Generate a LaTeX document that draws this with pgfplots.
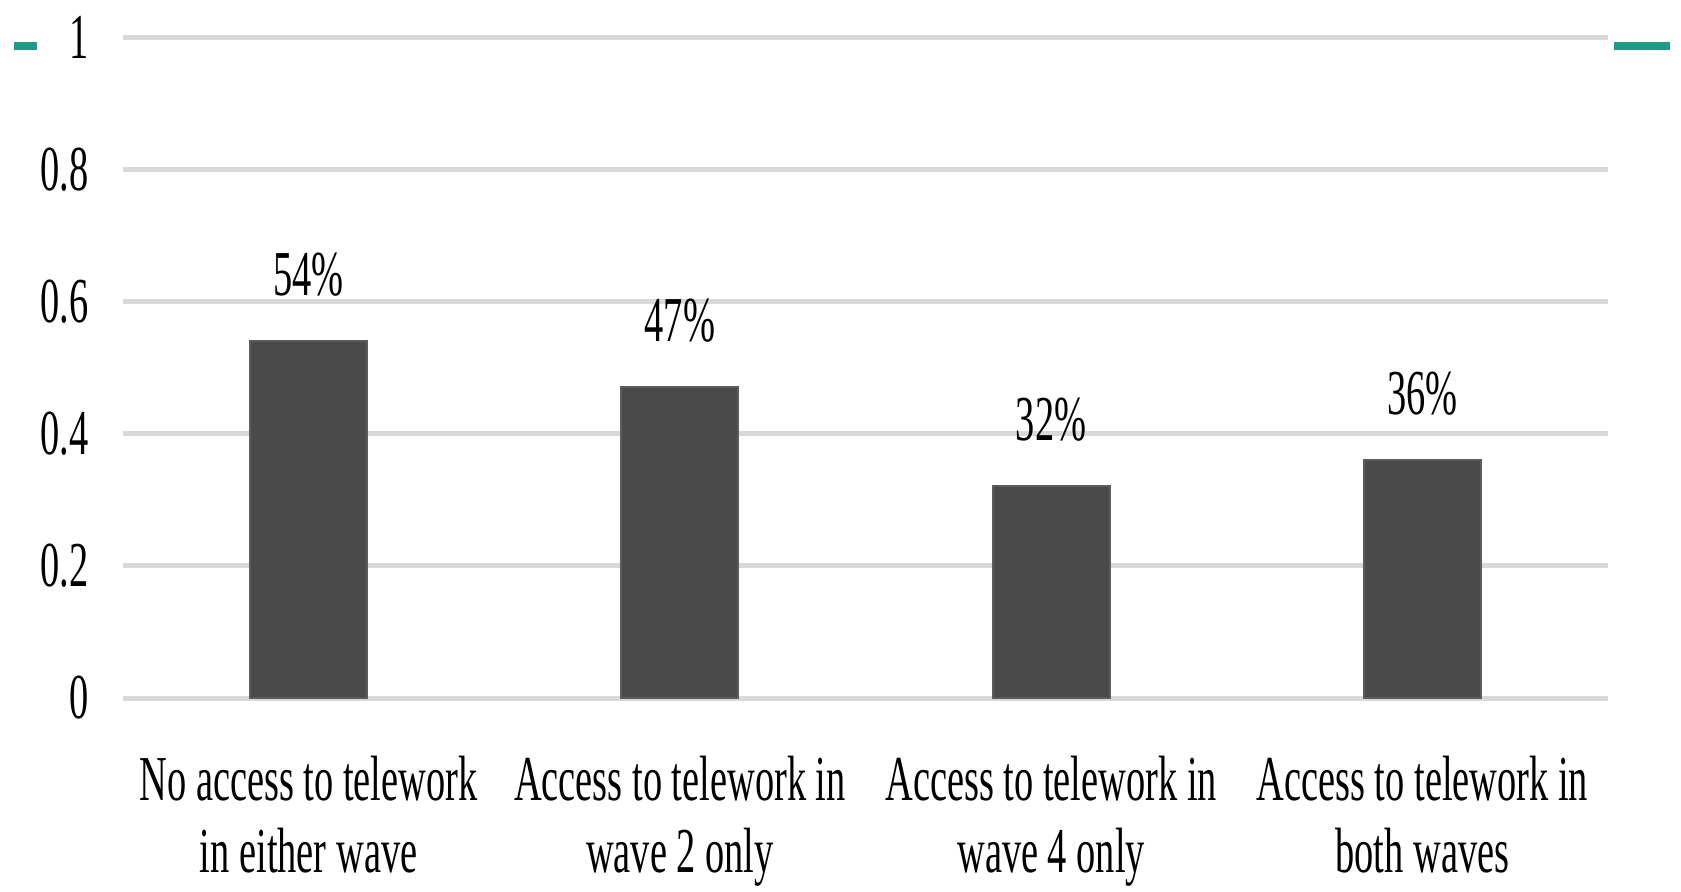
\documentclass[border=0pt]{standalone}
\usepackage{pgfplots}
\pgfplotsset{compat=1.18}
\usepackage{fontspec}
\setmainfont{Liberation Serif}[FakeStretch=0.6]
\definecolor{barfill}{RGB}{74,74,74}
\definecolor{baredge}{RGB}{92,92,92}
\definecolor{gridgray}{RGB}{217,217,217}
\definecolor{tealmark}{RGB}{33,154,135}
\begin{document}
\begin{tikzpicture}
\begin{axis}[
  scale only axis,
  width=742.5pt, height=330.5pt,
  xmin=-0.5, xmax=3.5, ymin=0, ymax=1,
  clip=false,
  ybar, bar width=58.5pt,
  xtick={0,1,2,3},
  xticklabels={{No access to telework\\in either wave},
               {Access to telework in\\wave 2 only},
               {Access to telework in\\wave 4 only},
               {Access to telework in\\both waves}},
  ytick={0,0.2,0.4,0.6,0.8,1},
  axis line style={draw=none},
  major tick length=0pt,
  ymajorgrids,
  grid style={gridgray, line width=2.5pt},
  /pgf/number format/assume math mode=true,
  tick label style={font=\fontsize{32}{36}\selectfont},
  xticklabel style={align=center, inner sep=0pt, yshift=-29pt},
  yticklabel style={inner sep=0pt, xshift=-17pt},
  point meta=explicit symbolic,
  nodes near coords,
  every node near coord/.append style={font=\fontsize{32}{36}\selectfont, inner sep=0pt, yshift=22pt, text=black},
]
\addplot[fill=barfill, draw=baredge, line width=1pt]
  coordinates {(0,0.54) [54\%] (1,0.47) [47\%] (2,0.32) [32\%] (3,0.36) [36\%]};
\end{axis}
% short teal rules at the top corners
\fill[tealmark] (-54.5pt,324pt) rectangle (-43pt,328pt);
\fill[tealmark] (745.5pt,324pt) rectangle (773.5pt,328pt);
\pgfresetboundingbox
\path[use as bounding box] (-61.5pt,-96.5pt) rectangle (779pt,349pt);
\end{tikzpicture}
\end{document}
